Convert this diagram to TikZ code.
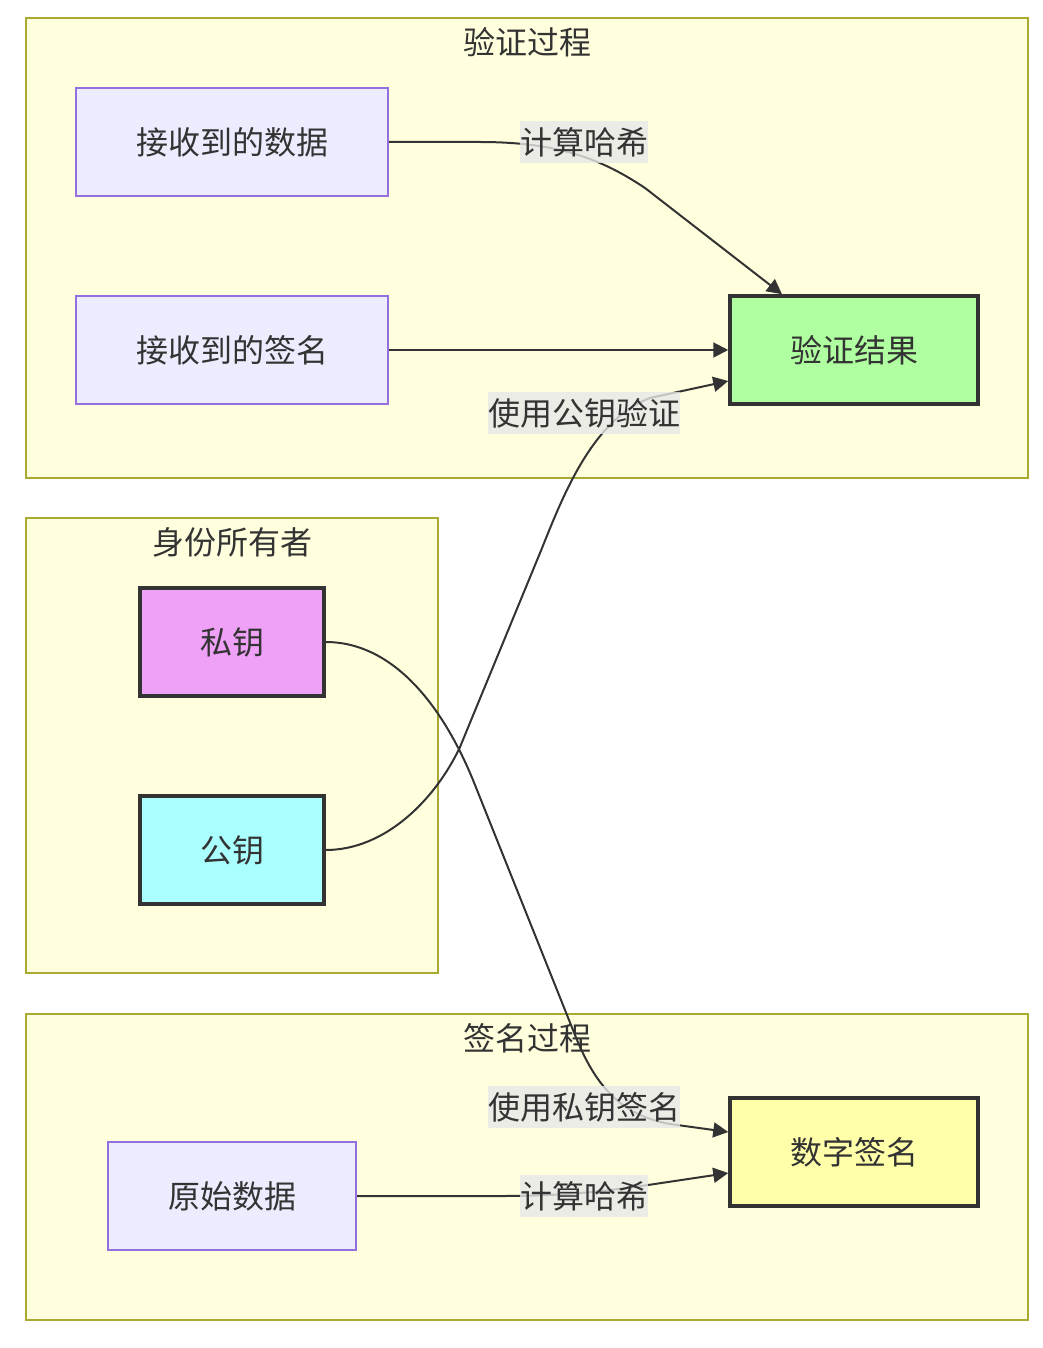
\documentclass[tikz,border=0pt]{standalone}
\usepackage{fontspec}
\newfontfamily\cjk{Noto Sans CJK SC}
\usetikzlibrary{arrows.meta,calc}
\definecolor{clfill}{HTML}{FFFFDE}
\definecolor{cldraw}{HTML}{AAAA33}
\definecolor{pfill}{HTML}{ECECFF}
\definecolor{pdraw}{HTML}{9370DB}
\definecolor{txt}{HTML}{333333}
\definecolor{greenf}{HTML}{B0FFA0}
\definecolor{violetf}{HTML}{EFA0F7}
\definecolor{cyanf}{HTML}{AAFFFF}
\definecolor{yellowf}{HTML}{FFFFAA}
\definecolor{lblf}{HTML}{E8E8E8}
\begin{document}
\begin{tikzpicture}[x=1pt,y=-1pt,
  every node/.style={font=\cjk\fontsize{32}{36}\selectfont, text=txt},
  cluster/.style={draw=cldraw, fill=clfill, line width=2pt},
  ctitle/.style={inner sep=0pt},
  pnode/.style={draw=pdraw, fill=pfill, line width=2pt, inner sep=0pt, minimum height=108pt},
  snode/.style={draw=txt, line width=3.5pt, inner sep=0pt, minimum height=108pt},
  edge/.style={draw=txt, line width=2pt, -{Triangle[length=15pt,width=15pt]}},
  elabel/.style={fill=lblf, fill opacity=0.8, text opacity=1, inner xsep=0pt, inner ysep=6pt}
]
\useasboundingbox (0,0) rectangle (1042,1348);
% clusters
\draw[cluster] (26,18) rectangle (1028,478);
\node[ctitle] (t1) at (527,42) {验证过程};
\draw[cluster] (26,518) rectangle (438,973);
\node[ctitle] (t2) at (232,542) {身份所有者};
\draw[cluster] (26,1014) rectangle (1028,1320);
\node[ctitle] (t3) at (527,1038) {签名过程};
% nodes
\node[pnode, minimum width=312pt] (rd) at (232,142) {接收到的数据};
\node[pnode, minimum width=312pt] (rs) at (232,350) {接收到的签名};
\node[snode, fill=greenf, minimum width=248pt] (res) at (854,350) {验证结果};
\node[snode, fill=violetf, minimum width=184pt] (sk) at (232,642) {私钥};
\node[snode, fill=cyanf, minimum width=184pt] (pk) at (232,850) {公钥};
\node[pnode, minimum width=248pt] (od) at (232,1196) {原始数据};
\node[snode, fill=yellowf, minimum width=248pt] (sig) at (854,1152) {数字签名};
% edges
\draw[edge] (rd.east) -- (480,142) .. controls (560,142) and (603,160) .. (645,188) -- ($(res.north)+(-72,0)$);
\draw[edge] (rs.east) -- (res.west);
\draw[edge] (pk.east) .. controls (385,850) and (435,800) .. (460,747) -- (540,553) .. controls (560,504) and (590,420) .. (650,398) -- ($(res.west)+(0,31)$);
\draw[edge] (sk.east) .. controls (390,642) and (440,700) .. (473,780) -- (575,1035) .. controls (595,1085) and (620,1115) .. (670,1124) -- ($(sig.west)+(0,-20)$);
\draw[edge] (od.east) -- (500,1196) .. controls (560,1196) and (600,1192) .. (648,1185) -- ($(sig.west)+(0,21)$);
% edge labels
\node[elabel] (l1) at (584,142) {计算哈希};
\node[elabel] (l2) at (584,413) {使用公钥验证};
\node[elabel] (l3) at (584,1107) {使用私钥签名};
\node[elabel] (l4) at (584,1196) {计算哈希};
\end{tikzpicture}
\end{document}
